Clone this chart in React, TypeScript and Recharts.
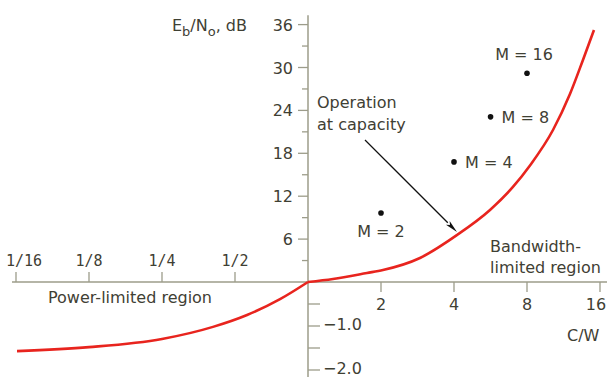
import React from 'react';
import {
  ComposedChart,
  Line,
  Scatter,
  XAxis,
  YAxis,
  ReferenceLine,
  ReferenceDot,
  Customized,
} from 'recharts';

// ---------- data ----------
// capacity curve, power-limited branch: C/W (bits/s/Hz) and Eb/N0 (dB)
const curveLeftCW = [0.0631, 0.125, 0.25, 0.4057, 0.5606, 0.7667, 1];
const curveLeftDB = [-1.57, -1.48, -1.295, -1.02, -0.75, -0.39, 0];
// capacity curve, bandwidth-limited branch
const curveRightCW = [1, 1.268, 1.751, 2.038, 2.896, 4.116, 5.63, 7.0, 8.23, 10.24, 12.03, 13.61, 15.11];
const curveRightDB = [0, 0.42, 1.26, 1.68, 3.36, 6.57, 10.07, 13.29, 16.3, 21.26, 26.29, 31.05, 35.24];

// M-ary points
const mCW = [2, 4, 5.66, 8];
const mDB = [9.65, 16.8, 23.1, 29.2];
const mLabels = ['M = 2', 'M = 4', 'M = 8', 'M = 16'];
const mLabelSide = ['below', 'right', 'right', 'above'];

// axis ticks
const xTicksLeft = [1 / 16, 1 / 8, 1 / 4, 1 / 2];
const xTickLabelsLeft = ['1/16', '1/8', '1/4', '1/2'];
const xTicksRight = [2, 4, 8, 16];
const xTickLabelsRight = ['2', '4', '8', '16'];
const yTicksMajor = [6, 12, 18, 24, 30, 36];
const yTicksMinor = [3, 9, 15, 21, 27, 33];
const yTicksNegMajor = [-1, -2];
const yTickLabelsNeg = ['\u22121.0', '\u22122.0'];
const yTicksNegMinor = [-0.5, -1.5];

// arrow "Operation at capacity": from / to (C/W, dB)
const arrowCW = [1.718, 4.116];
const arrowDB = [19.86, 6.99];

// ---------- layout / style ----------
const W = 607;
const H = 377;
const AXIS_X_PX = 308;
const AXIS_Y_PX = 282;
const PX_PER_OCT = 73;
const PX_PER_DB_POS = 7.15;
const PX_PER_DB_NEG = 44;
const Y_AXIS_TOP_DB = 37.3;
const X_AXIS_LEFT_CW = Math.pow(2, -296 / PX_PER_OCT);
const xLabelDxLeft = [8, 0, 0, 0];
const xLabelDxRight = [0, 0, 0, -4];

const TEXT = '#3f4034';
const AXIS = '#9c9c8a';
const RED = '#e8241e';
const FONT = 'DejaVu Sans';
const MONO = 'DejaVu Sans Mono';

// piecewise linear dB axis: the negative part is stretched
const tr = (db: number) => (db >= 0 ? db : (db * PX_PER_DB_NEG) / PX_PER_DB_POS);

const xDomain = [Math.pow(2, -AXIS_X_PX / PX_PER_OCT), Math.pow(2, (W - AXIS_X_PX) / PX_PER_OCT)];
const yDomain = [-(H - AXIS_Y_PX) / PX_PER_DB_POS, AXIS_Y_PX / PX_PER_DB_POS];

const curveLeft = curveLeftCW.map((cw, i) => ({ cw, t: tr(curveLeftDB[i]) }));
const curveRight = curveRightCW.map((cw, i) => ({ cw, t: tr(curveRightDB[i]) }));
const mData = mCW.map((cw, i) => ({ cw, t: tr(mDB[i]), label: mLabels[i], side: mLabelSide[i] }));

const txt = { fill: TEXT, fontFamily: FONT, fontSize: 16 } as const;

const renderPoint = (p: any) => {
  const { cx, cy, payload } = p;
  let label = null;
  if (payload.side === 'below')
    label = <text x={cx} y={cy + 24} textAnchor="middle" {...txt}>{payload.label}</text>;
  else if (payload.side === 'above')
    label = <text x={cx - 3} y={cy - 13} textAnchor="middle" {...txt}>{payload.label}</text>;
  else label = <text x={cx + 11} y={cy + 6} textAnchor="start" {...txt}>{payload.label}</text>;
  return (
    <g>
      <circle cx={cx} cy={cy} r={2.8} fill="#111" />
      {label}
    </g>
  );
};

const renderArrow = (p: any) => {
  const { x1, y1, x2, y2 } = p;
  const dx = x2 - x1;
  const dy = y2 - y1;
  const len = Math.sqrt(dx * dx + dy * dy) || 1;
  const ux = dx / len;
  const uy = dy / len;
  const hl = 13;
  const hw = 2.6;
  const bx = x2 - ux * hl;
  const by = y2 - uy * hl;
  return (
    <g>
      <line x1={x1} y1={y1} x2={bx} y2={by} stroke="#111" strokeWidth={1.3} />
      <polygon
        points={`${x2},${y2} ${bx - uy * hw},${by + ux * hw} ${bx + ux * 3},${by + uy * 3} ${bx + uy * hw},${by - ux * hw}`}
        fill="#111"
      />
    </g>
  );
};

const Annotations = () => (
  <g>
    <text x={247} y={31} textAnchor="end" {...txt}>
      E<tspan dy={5} fontSize={13}>b</tspan>
      <tspan dy={-5}>/N</tspan>
      <tspan dy={5} fontSize={13}>o</tspan>
      <tspan dy={-5}>, dB</tspan>
    </text>
    <text x={317} y={108} {...txt}>Operation</text>
    <text x={317} y={130} {...txt}>at capacity</text>
    <text x={48} y={303} {...txt}>Power-limited region</text>
    <text x={490} y={252} {...txt}>Bandwidth-</text>
    <text x={490} y={273} {...txt}>limited region</text>
    <text x={567} y={341} {...txt}>C/W</text>
  </g>
);

export default function App() {
  return (
    <div style={{ position: 'absolute', left: 0, top: 0, background: '#fff' }}>
      <ComposedChart width={W} height={H} margin={{ top: 0, right: 0, bottom: 0, left: 0 }}>
        <XAxis
          type="number"
          dataKey="cw"
          scale="log"
          domain={xDomain}
          allowDataOverflow
          hide
        />
        <YAxis type="number" domain={yDomain} allowDataOverflow hide />

        {/* axes */}
        <ReferenceLine
          segment={[{ x: 1, y: Y_AXIS_TOP_DB }, { x: 1, y: yDomain[0] }]}
          stroke={AXIS}
          strokeWidth={1.5}
          ifOverflow="visible"
        />
        <ReferenceLine
          segment={[{ x: X_AXIS_LEFT_CW, y: 0 }, { x: xDomain[1], y: 0 }]}
          stroke={AXIS}
          strokeWidth={1.5}
          ifOverflow="visible"
        />

        {/* x ticks, left (up, labels above) */}
        {xTicksLeft.map((v, i) => (
          <ReferenceDot
            key={'xl' + i}
            x={v}
            y={0}
            r={0}
            ifOverflow="visible"
            shape={(p: any) => (
              <g>
                <line x1={p.cx} y1={p.cy} x2={p.cx} y2={p.cy - 10} stroke={AXIS} strokeWidth={1.3} />
                <text
                  x={p.cx + xLabelDxLeft[i]}
                  y={p.cy - 16}
                  textAnchor="middle"
                  fill={TEXT}
                  fontFamily={MONO}
                  fontSize={15}
                >
                  {xTickLabelsLeft[i]}
                </text>
              </g>
            )}
          />
        ))}
        {/* x ticks, right (down, labels below) */}
        {xTicksRight.map((v, i) => (
          <ReferenceDot
            key={'xr' + i}
            x={v}
            y={0}
            r={0}
            ifOverflow="visible"
            shape={(p: any) => (
              <g>
                <line x1={p.cx} y1={p.cy} x2={p.cx} y2={p.cy + 10} stroke={AXIS} strokeWidth={1.3} />
                <text x={p.cx + xLabelDxRight[i]} y={p.cy + 28} textAnchor="middle" {...txt}>
                  {xTickLabelsRight[i]}
                </text>
              </g>
            )}
          />
        ))}
        {/* y ticks positive */}
        {yTicksMajor.map((v, i) => (
          <ReferenceDot
            key={'ym' + i}
            x={1}
            y={tr(v)}
            r={0}
            ifOverflow="visible"
            shape={(p: any) => (
              <g>
                <line x1={p.cx - 10} y1={p.cy} x2={p.cx} y2={p.cy} stroke={AXIS} strokeWidth={1.3} />
                <text x={p.cx - 15} y={p.cy + 6} textAnchor="end" {...txt}>
                  {String(v)}
                </text>
              </g>
            )}
          />
        ))}
        {yTicksMinor.map((v, i) => (
          <ReferenceDot
            key={'yn' + i}
            x={1}
            y={tr(v)}
            r={0}
            ifOverflow="visible"
            shape={(p: any) => (
              <line x1={p.cx - 6} y1={p.cy} x2={p.cx} y2={p.cy} stroke={AXIS} strokeWidth={1.3} />
            )}
          />
        ))}
        {/* y ticks negative */}
        {yTicksNegMajor.map((v, i) => (
          <ReferenceDot
            key={'yg' + i}
            x={1}
            y={tr(v)}
            r={0}
            ifOverflow="visible"
            shape={(p: any) => (
              <g>
                <line x1={p.cx} y1={p.cy} x2={p.cx + 12} y2={p.cy} stroke={AXIS} strokeWidth={1.3} />
                <text x={p.cx + 15} y={p.cy + 4} textAnchor="start" {...txt}>
                  {yTickLabelsNeg[i]}
                </text>
              </g>
            )}
          />
        ))}
        {yTicksNegMinor.map((v, i) => (
          <ReferenceDot
            key={'yh' + i}
            x={1}
            y={tr(v)}
            r={0}
            ifOverflow="visible"
            shape={(p: any) => (
              <line x1={p.cx} y1={p.cy} x2={p.cx + 12} y2={p.cy} stroke={AXIS} strokeWidth={1.3} />
            )}
          />
        ))}

        {/* capacity curve (two branches meeting at C/W = 1) */}
        <Line
          data={curveLeft}
          dataKey="t"
          type="monotone"
          stroke={RED}
          strokeWidth={2.6}
          dot={false}
          activeDot={false}
          isAnimationActive={false}
        />
        <Line
          data={curveRight}
          dataKey="t"
          type="monotone"
          stroke={RED}
          strokeWidth={2.6}
          dot={false}
          activeDot={false}
          isAnimationActive={false}
        />

        {/* M-ary points */}
        <Scatter data={mData} dataKey="t" shape={renderPoint} isAnimationActive={false} />

        {/* arrow */}
        <ReferenceLine
          segment={[{ x: arrowCW[0], y: tr(arrowDB[0]) }, { x: arrowCW[1], y: tr(arrowDB[1]) }]}
          shape={renderArrow}
          ifOverflow="visible"
        />

        <Customized component={Annotations} />
      </ComposedChart>
    </div>
  );
}
